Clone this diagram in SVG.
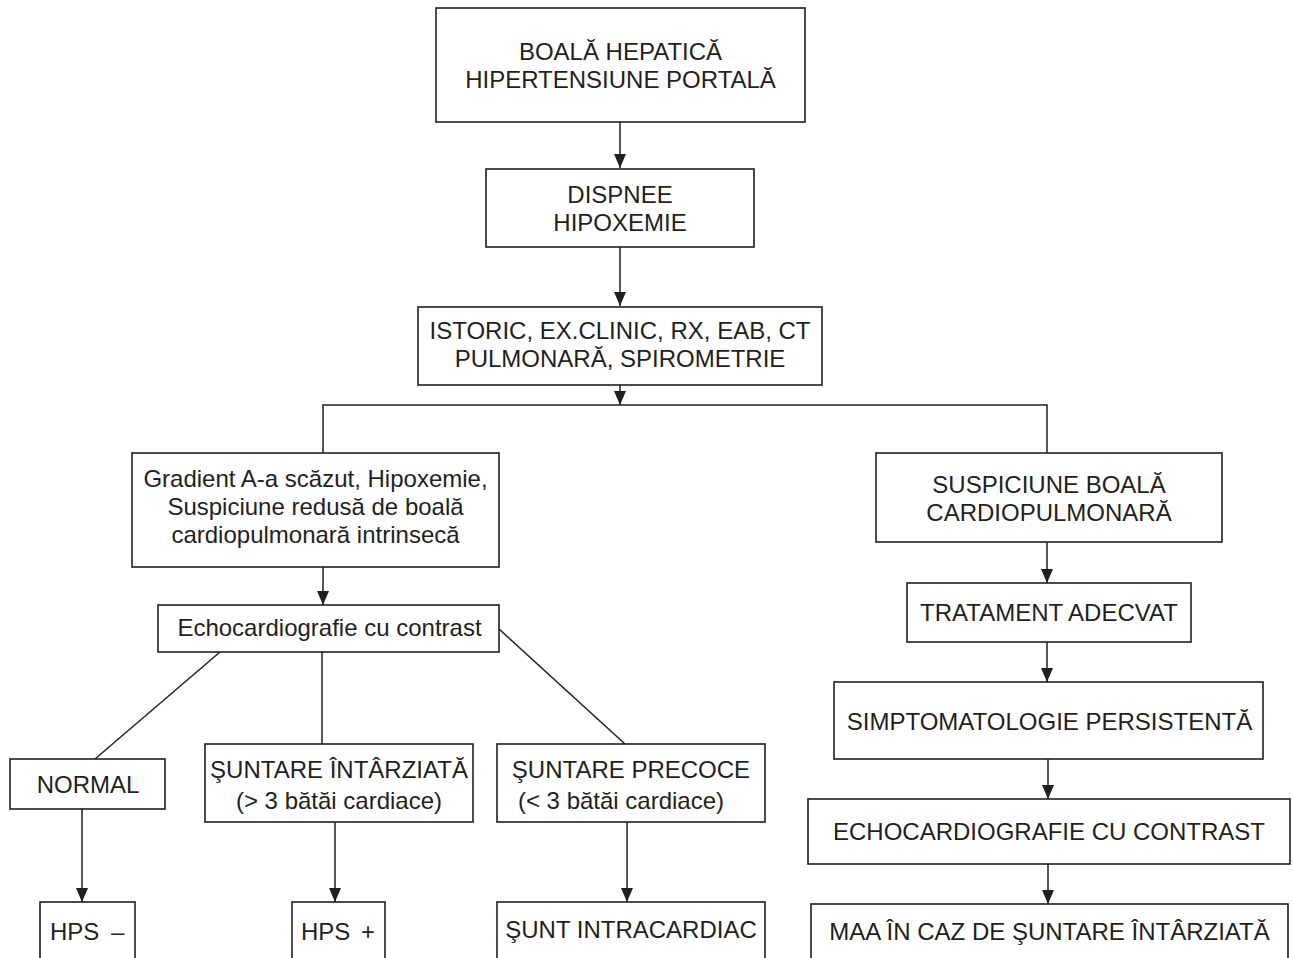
<svg xmlns="http://www.w3.org/2000/svg" width="1293" height="958" viewBox="0 0 1293 958">
<defs>
<marker id="ah" markerWidth="14" markerHeight="12" refX="14" refY="6" orient="auto" markerUnits="userSpaceOnUse">
<path d="M0,0 L14,6 L0,12 Z" fill="#231f20"/>
</marker>
<style>
rect{fill:#fff;stroke:#231f20;stroke-width:1.6}
text{font-family:"Liberation Sans",Arial,sans-serif;font-size:24px;fill:#231f20;text-anchor:middle}
text.l{text-anchor:start}
.c line,.c path{stroke:#231f20;stroke-width:1.5;fill:none}
</style>
</defs>
<rect x="0" y="0" width="1293" height="958" style="fill:#fff;stroke:none"/>
<g class="c">
<line x1="620" y1="122" x2="620" y2="168" marker-end="url(#ah)"/>
<line x1="620" y1="247" x2="620" y2="306" marker-end="url(#ah)"/>
<line x1="620" y1="385" x2="620" y2="405" marker-end="url(#ah)"/>
<path d="M323,453 V405 H1047 V453"/>
<line x1="323" y1="567" x2="323" y2="605" marker-end="url(#ah)"/>
<line x1="220" y1="652" x2="95" y2="759"/>
<line x1="322" y1="652" x2="322" y2="744"/>
<line x1="499" y1="629" x2="625" y2="744"/>
<line x1="82" y1="809" x2="82" y2="902" marker-end="url(#ah)"/>
<line x1="335" y1="822" x2="335" y2="902" marker-end="url(#ah)"/>
<line x1="627" y1="822" x2="627" y2="902" marker-end="url(#ah)"/>
<line x1="1047" y1="542" x2="1047" y2="583" marker-end="url(#ah)"/>
<line x1="1047" y1="642" x2="1047" y2="682" marker-end="url(#ah)"/>
<line x1="1048" y1="759" x2="1048" y2="799" marker-end="url(#ah)"/>
<line x1="1048" y1="864" x2="1048" y2="904" marker-end="url(#ah)"/>
</g>
<g id="n-boala">
<rect x="436" y="8" width="369" height="114"/>
<text x="620.5" y="60">BOALĂ HEPATICĂ</text>
<text x="620.5" y="88">HIPERTENSIUNE PORTALĂ</text>
</g>
<g id="n-dispnee">
<rect x="486" y="169" width="268" height="78"/>
<text x="620" y="203">DISPNEE</text>
<text x="620" y="231">HIPOXEMIE</text>
</g>
<g id="n-istoric">
<rect x="418" y="307" width="404" height="78"/>
<text x="620" y="339">ISTORIC, EX.CLINIC, RX, EAB, CT</text>
<text x="620" y="367">PULMONARĂ, SPIROMETRIE</text>
</g>
<g id="n-gradient">
<rect x="132" y="453" width="367" height="114"/>
<text x="315.5" y="487">Gradient A-a scăzut, Hipoxemie,</text>
<text x="315.5" y="515">Suspiciune redusă de boală</text>
<text x="315.5" y="543">cardiopulmonară intrinsecă</text>
</g>
<g id="n-suspiciune">
<rect x="876" y="453" width="346" height="89"/>
<text x="1049" y="493">SUSPICIUNE BOALĂ</text>
<text x="1049" y="521">CARDIOPULMONARĂ</text>
</g>
<g id="n-echo1">
<rect x="158" y="605" width="341" height="47"/>
<text x="329.5" y="636">Echocardiografie cu contrast</text>
</g>
<g id="n-tratament">
<rect x="907" y="583" width="284" height="59"/>
<text x="1049" y="621">TRATAMENT ADECVAT</text>
</g>
<g id="n-simpt">
<rect x="834" y="682" width="429" height="77"/>
<text x="1049.5" y="730">SIMPTOMATOLOGIE PERSISTENTĂ</text>
</g>
<g id="n-normal">
<rect x="10" y="759" width="155" height="50"/>
<text x="88" y="793">NORMAL</text>
</g>
<g id="n-intarziata">
<rect x="205" y="744" width="268" height="78"/>
<text x="339" y="778">ŞUNTARE ÎNTÂRZIATĂ</text>
<text x="339" y="809">(&gt; 3 bătăi cardiace)</text>
</g>
<g id="n-precoce">
<rect x="497" y="744" width="268" height="78"/>
<text x="631" y="778">ŞUNTARE PRECOCE</text>
<text x="621" y="809">(&lt; 3 bătăi cardiace)</text>
</g>
<g id="n-echo2">
<rect x="808" y="799" width="482" height="65"/>
<text x="1049" y="840">ECHOCARDIOGRAFIE CU CONTRAST</text>
</g>
<g id="n-hpsminus">
<rect x="40" y="902" width="95" height="70"/>
<text class="l" x="50" y="940">HPS<tspan x="111">–</tspan></text>
</g>
<g id="n-hpsplus">
<rect x="292" y="902" width="93" height="70"/>
<text class="l" x="301" y="940">HPS<tspan x="361">+</tspan></text>
</g>
<g id="n-suntintra">
<rect x="497" y="902" width="268" height="70"/>
<text x="631" y="938">ŞUNT INTRACARDIAC</text>
</g>
<g id="n-maa">
<rect x="811" y="904" width="477" height="70"/>
<text x="1049.5" y="940">MAA ÎN CAZ DE ŞUNTARE ÎNTÂRZIATĂ</text>
</g>
</svg>
